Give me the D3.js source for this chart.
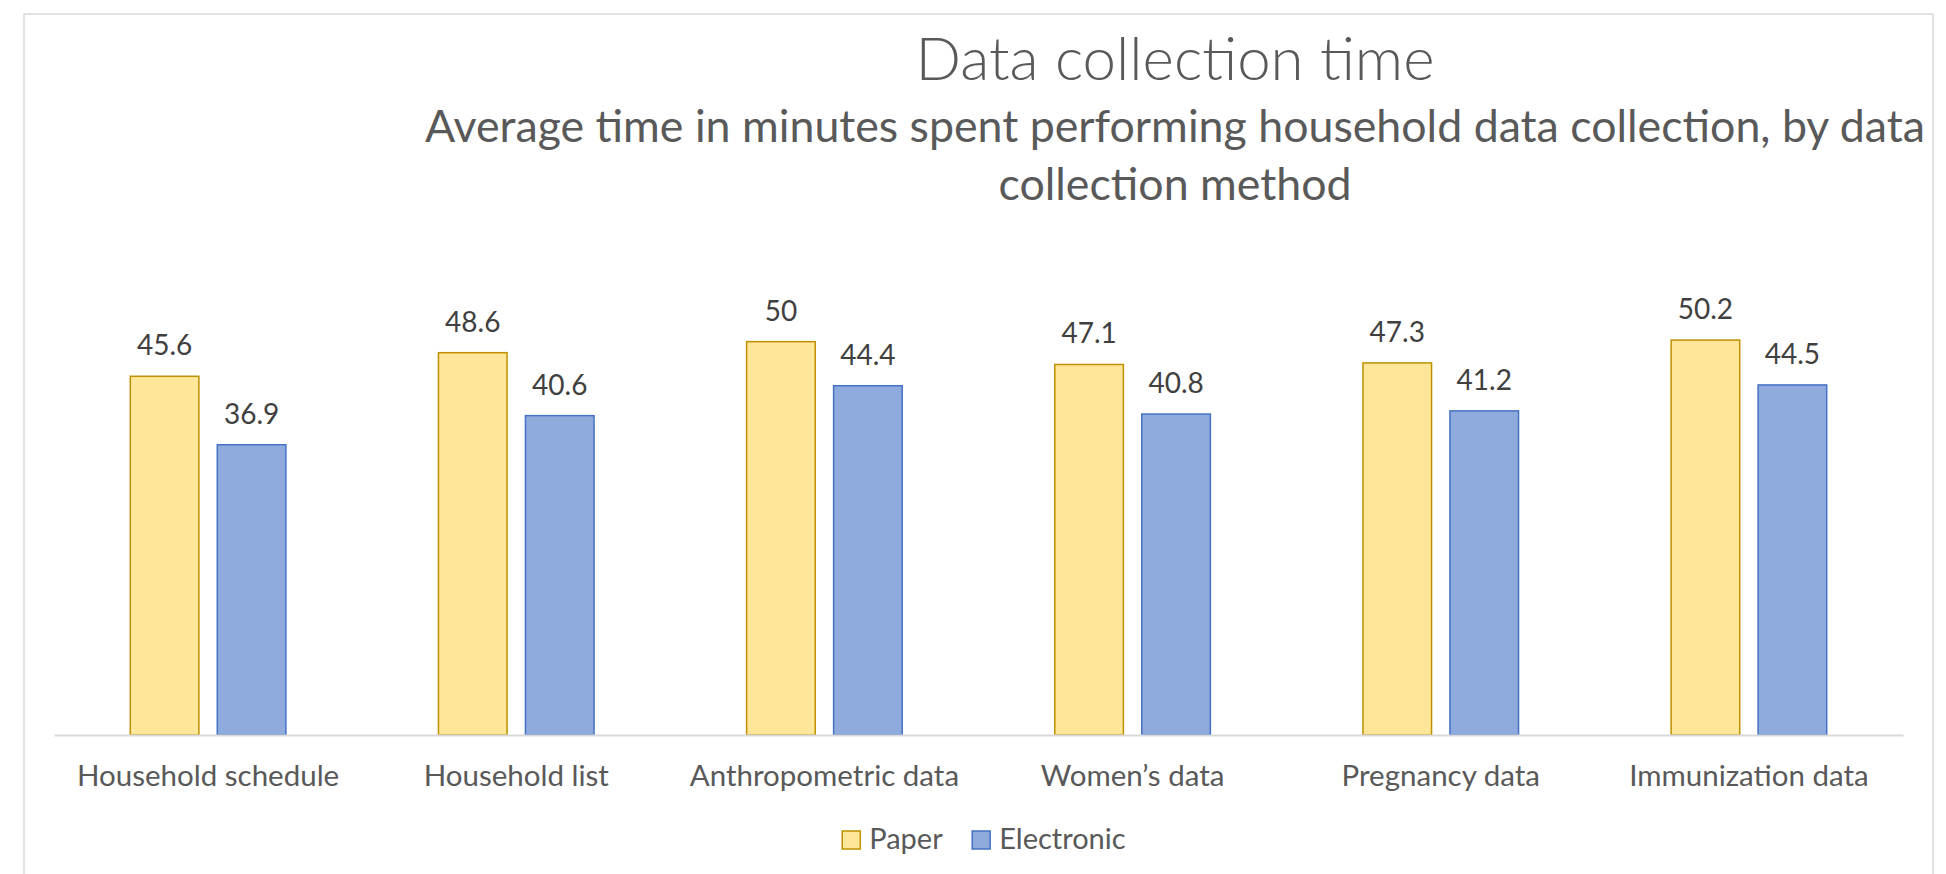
<!DOCTYPE html>
<html>
<head>
<meta charset="utf-8">
<script src="https://cdn.jsdelivr.net/npm/d3@7"></script>
<style>
  html, body { margin: 0; padding: 0; background: #fff; }
  svg { display: block; font-family: Lato, Carlito, Calibri, "Noto Sans", sans-serif; }
</style>
</head>
<body>
<svg id="chart" width="1946" height="874"></svg>
<script>
const categories = ["Household schedule", "Household list", "Anthropometric data", "Women\u2019s data", "Pregnancy data", "Immunization data"];
const seriesNames = ["Paper", "Electronic"];
const paperValues = [45.6, 48.6, 50, 47.1, 47.3, 50.2];
const electronicValues = [36.9, 40.6, 44.4, 40.8, 41.2, 44.5];
const titleText = "Data collection time";
const subtitleLines = ["Average time in minutes spent performing household data collection, by data", "collection method"];

const fills = { Paper: "#FFE699", Electronic: "#8FAADC" };
const strokes = { Paper: "#BF9000", Electronic: "#4472C4" };

const svg = d3.select("#chart");

// chart border
svg.append("rect")
  .attr("x", 24).attr("y", 14).attr("width", 1909).attr("height", 900)
  .attr("fill", "#fff").attr("stroke", "#D9D9D9").attr("stroke-width", 1.5);

const plot = { left: 54, right: 1903, top: 263, bottom: 735 };

const x0 = d3.scaleBand().domain(categories).range([plot.left, plot.right]).padding(0);
const x1 = d3.scaleBand().domain(seriesNames).range([0, x0.bandwidth()])
  .paddingInner(0.2115).paddingOuter(0.877);
const y = d3.scaleLinear().domain([0, 60]).range([plot.bottom, plot.top]);

const rows = categories.map((c, i) => ({
  category: c,
  values: [
    { series: "Paper", value: paperValues[i] },
    { series: "Electronic", value: electronicValues[i] }
  ]
}));

// title
svg.append("text")
  .attr("x", 1175).attr("y", 80)
  .attr("text-anchor", "middle")
  .attr("font-size", 60).attr("font-weight", 300)
  .attr("fill", "#595959")
  .text(titleText);

svg.append("g").selectAll("text").data(subtitleLines).join("text")
  .attr("x", 1175).attr("y", (d, i) => 142 + i * 58)
  .attr("text-anchor", "middle")
  .attr("font-size", 44.7)
  .attr("fill", "#595959")
  .text(d => d);

// bars
const groups = svg.append("g").selectAll("g").data(rows).join("g")
  .attr("transform", d => `translate(${x0(d.category)},0)`);

groups.selectAll("rect").data(d => d.values).join("rect")
  .attr("x", d => x1(d.series))
  .attr("y", d => y(d.value))
  .attr("width", x1.bandwidth())
  .attr("height", d => y(0) - y(d.value))
  .attr("fill", d => fills[d.series])
  .attr("stroke", d => strokes[d.series])
  .attr("stroke-width", 1.5);

groups.selectAll("text.val").data(d => d.values).join("text")
  .attr("class", "val")
  .attr("x", d => x1(d.series) + x1.bandwidth() / 2)
  .attr("y", d => y(d.value) - 21)
  .attr("text-anchor", "middle")
  .attr("font-size", 28)
  .attr("fill", "#404040")
  .text(d => d.value);

// x axis
const xAxis = d3.axisBottom(x0).tickSize(0).tickPadding(0);
const axisG = svg.append("g").attr("transform", `translate(0,${plot.bottom})`).call(xAxis);
axisG.select(".domain").attr("stroke", "#D9D9D9").attr("stroke-width", 2);
axisG.selectAll(".tick text")
  .attr("y", 51).attr("dy", 0)
  .attr("font-size", 29.5)
  .attr("font-family", "Lato, Carlito, Calibri, 'Noto Sans', sans-serif")
  .attr("fill", "#595959");

// legend
const legend = svg.append("g");
const items = legend.selectAll("g").data(seriesNames).join("g");
items.append("rect")
  .attr("width", 18).attr("height", 18)
  .attr("y", 831)
  .attr("fill", d => fills[d]).attr("stroke", d => strokes[d]).attr("stroke-width", 1.5);
items.append("text")
  .attr("x", 27).attr("y", 849)
  .attr("font-size", 29)
  .attr("fill", "#595959")
  .text(d => d);
let offsets = [];
let cur = 0;
items.each(function() {
  const w = this.getBBox().width;
  offsets.push(cur);
  cur += w + 29;
});
const total = cur - 29;
const startX = 984 - total / 2;
items.attr("transform", (d, i) => `translate(${startX + offsets[i]},0)`);
</script>
</body>
</html>
